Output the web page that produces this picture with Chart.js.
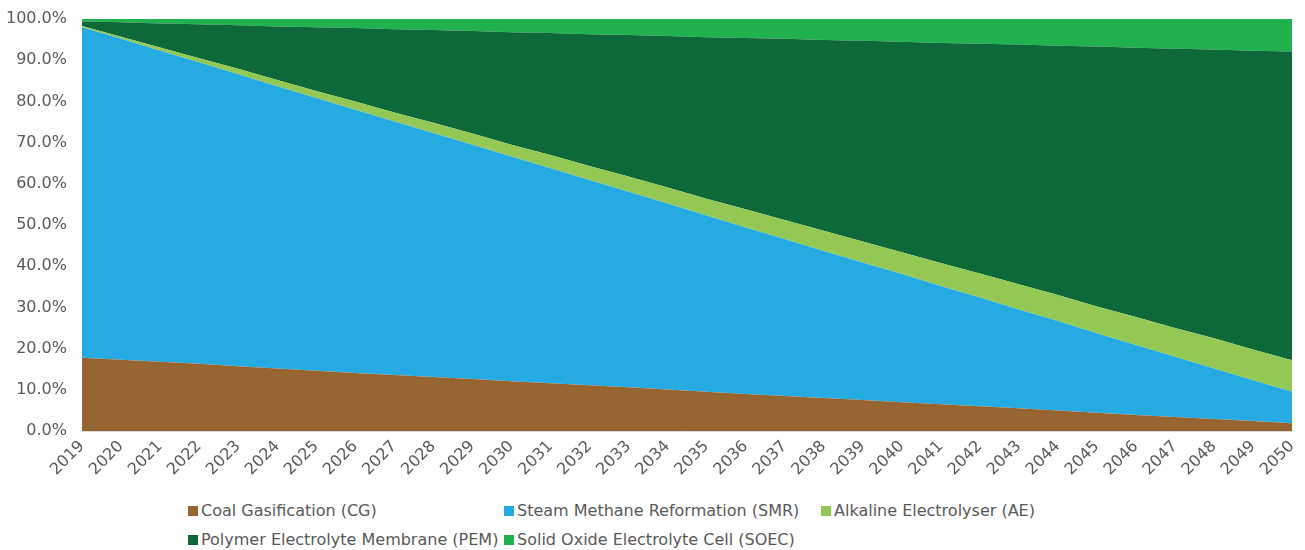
<!DOCTYPE html>
<html>
<head>
<meta charset="utf-8">
<script src="https://cdn.jsdelivr.net/npm/chart.js@4.4.1/dist/chart.umd.min.js"></script>
<style>
  body { margin: 0; background: #fff; }
  #wrap { position: relative; width: 1305px; height: 550px; }
  #chart-box { position: absolute; left: 0; top: 0; width: 1305px; height: 490px; }
  .legend-row { position: absolute; left: 0; height: 20px; font-family: "DejaVu Sans", Verdana, sans-serif; font-size: 16px; line-height: 20px; color: #595959; }
  .legend-item { position: absolute; top: 0; white-space: nowrap; }
  .legend-item span.box { display: inline-block; width: 10px; height: 10px; margin-right: 3px; vertical-align: 0px; }
</style>
</head>
<body>
<div id="wrap">
  <div id="chart-box"><canvas id="share-chart"></canvas></div>
  <div id="legend"></div>
</div>
<script>
const years = ["2019","2020","2021","2022","2023","2024","2025","2026","2027","2028","2029","2030","2031","2032","2033","2034",
  "2035","2036","2037","2038","2039","2040","2041","2042","2043","2044","2045","2046","2047","2048","2049","2050"];

const coalGasification = [17.8,17.3,16.8,16.3,15.7,15.2,14.6,14.1,13.6,13.1,12.6,12.1,11.6,11.1,10.6,10.1,
  9.5,9.0,8.5,8.0,7.5,7.0,6.5,6.0,5.5,5.0,4.4,3.9,3.4,2.9,2.4,1.9];
const steamMethane = [80.2,77.9,75.5,73.2,70.9,68.5,66.2,63.9,61.5,59.2,56.9,54.5,52.2,49.8,47.5,45.1,
  42.8,40.4,38.1,35.7,33.4,31.1,28.7,26.4,24.0,21.7,19.3,17.0,14.6,12.3,9.9,7.6];
const alkaline = [0.3,0.5,0.8,1.0,1.3,1.5,1.7,2.0,2.2,2.5,2.7,2.9,3.2,3.4,3.7,3.9,
  4.1,4.4,4.6,4.9,5.1,5.3,5.6,5.8,6.1,6.3,6.5,6.8,7.0,7.3,7.5,7.7];
const polymerMembrane = [1.1,3.5,5.8,8.2,10.6,13.0,15.5,17.8,20.2,22.5,24.9,27.3,29.6,32.0,34.3,36.8,
  39.2,41.6,44.0,46.3,48.7,51.1,53.4,55.8,58.2,60.5,63.1,65.3,67.8,70.1,72.5,74.9];
const solidOxide = [0.6,0.8,1.1,1.3,1.5,1.8,2.0,2.2,2.5,2.7,2.9,3.2,3.4,3.7,3.9,4.1,
  4.4,4.6,4.8,5.1,5.3,5.5,5.8,6.0,6.2,6.5,6.7,7.0,7.2,7.4,7.7,7.9];

const seriesNames = ["Coal Gasification (CG)", "Steam Methane Reformation (SMR)", "Alkaline Electrolyser (AE)",
  "Polymer Electrolyte Membrane (PEM)", "Solid Oxide Electrolyte Cell (SOEC)"];
const seriesColors = ["#976532", "#25AAE2", "#92C853", "#0D6939", "#21B24F"];
const seriesData = [coalGasification, steamMethane, alkaline, polymerMembrane, solidOxide];

const FONT = "'DejaVu Sans', Verdana, sans-serif";
const GREY = "#595959";

new Chart("share-chart", {
  type: "line",
  data: {
    labels: years,
    datasets: seriesData.map((vals, i) => ({
      label: seriesNames[i],
      data: vals,
      backgroundColor: seriesColors[i],
      borderColor: seriesColors[i],
      borderWidth: 0,
      pointRadius: 0,
      tension: 0,
      fill: i === 0 ? "origin" : "-1",
    })),
  },
  options: {
    animation: false,
    responsive: true,
    maintainAspectRatio: false,
    layout: {
      padding: { left: 0, right: 13, top: 19, bottom: 0 },
    },
    scales: {
      x: {
        offset: false,
        grid: { display: false, drawTicks: false },
        border: { display: true, color: "#d9d9d9", width: 1 },
        ticks: {
          font: { family: FONT, size: 16 },
          color: GREY,
          minRotation: 45,
          maxRotation: 45,
          autoSkip: false,
          padding: 6,
        },
        afterFit: (axis) => {
          axis.height = 59;
          axis.paddingLeft = 0;
          axis.paddingRight = 0;
        },
      },
      y: {
        stacked: true,
        min: 0,
        max: 100,
        grid: { display: false, drawTicks: false },
        border: { display: false },
        ticks: {
          stepSize: 10,
          font: { family: FONT, size: 16 },
          color: GREY,
          padding: 15,
          callback: (v) => v.toFixed(1) + "%",
        },
        afterFit: (axis) => {
          axis.width = 82;
          axis.paddingTop = 0;
          axis.paddingBottom = 0;
        },
      },
    },
    plugins: {
      legend: { display: false },
      tooltip: { enabled: false },
    },
  },
});

// Excel-style legend laid out under the plot, in columns
const legendRows = [
  [[0, 188], [1, 504], [2, 821]],
  [[3, 188], [4, 504]],
];
const legendTop = [501, 530];
const legendEl = document.getElementById("legend");
legendRows.forEach((row, r) => {
  const rowEl = document.createElement("div");
  rowEl.className = "legend-row";
  rowEl.style.top = legendTop[r] + "px";
  row.forEach(([idx, left]) => {
    const item = document.createElement("div");
    item.className = "legend-item";
    item.style.left = left + "px";
    item.innerHTML = '<span class="box" style="background:' + seriesColors[idx] + '"></span>' + seriesNames[idx];
    rowEl.appendChild(item);
  });
  legendEl.appendChild(rowEl);
});
</script>
</body>
</html>
